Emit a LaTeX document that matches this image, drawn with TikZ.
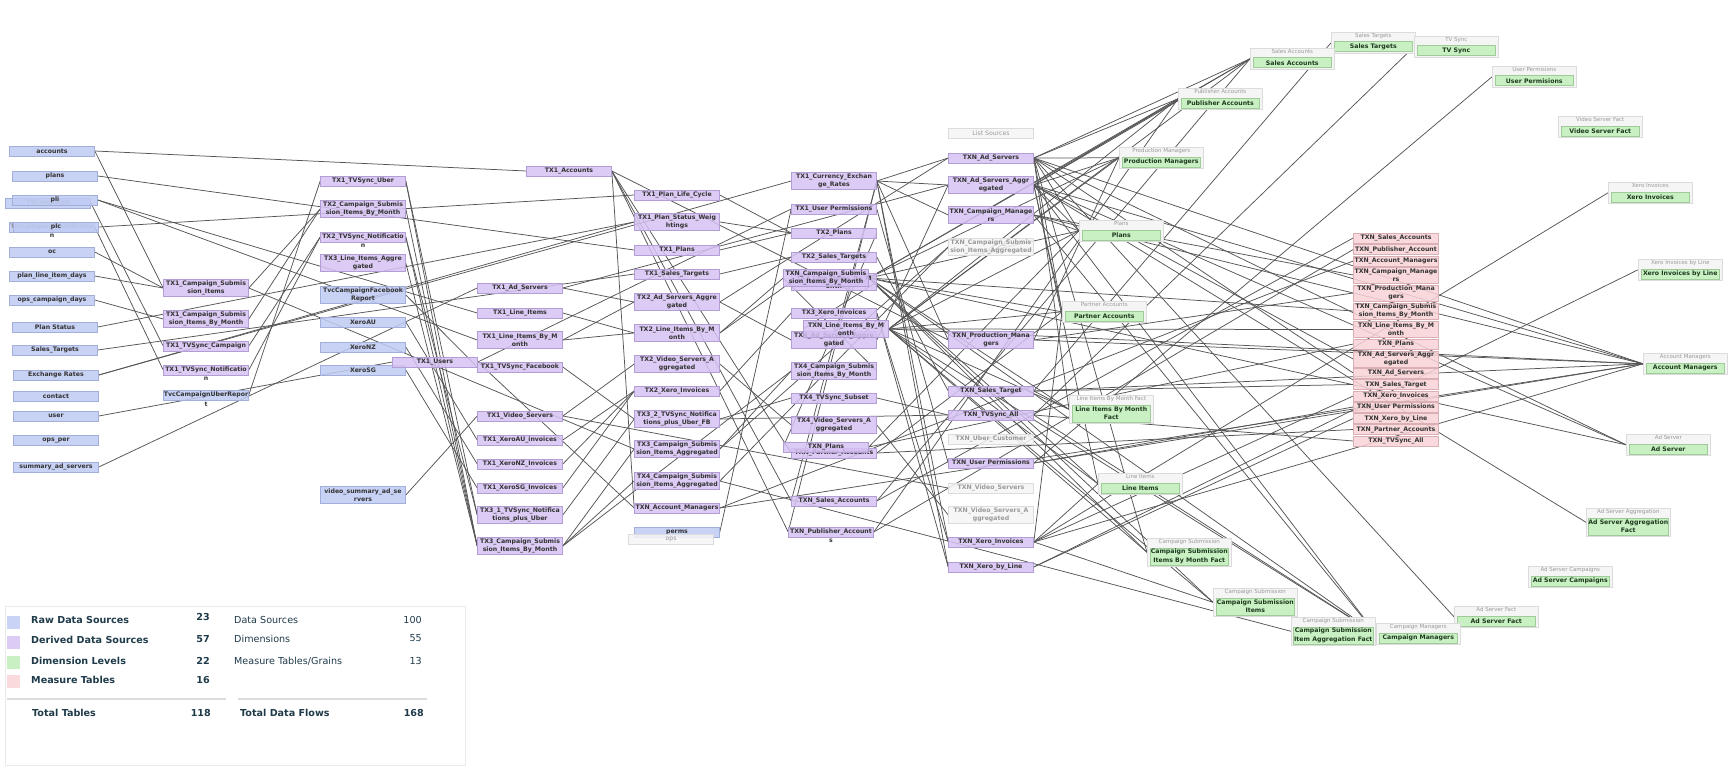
\documentclass[tikz,border=0pt]{standalone}
\usepackage{fontspec}
\setmainfont{DejaVu Sans}
\newfontfamily\dv{DejaVu Sans}
\usetikzlibrary{backgrounds}
\definecolor{rawf}{HTML}{BFCBF3}\definecolor{rawd}{HTML}{A3AFDB}
\definecolor{derf}{HTML}{D6C2F3}\definecolor{derd}{HTML}{B29DD5}
\definecolor{meaf}{HTML}{F9D3D7}\definecolor{mead}{HTML}{DAB0B5}
\definecolor{dimf}{HTML}{C8F0C3}\definecolor{dimd}{HTML}{9FCB99}
\definecolor{lrawf}{HTML}{C9D3F5}\definecolor{lderf}{HTML}{DCCBF5}\definecolor{lmeaf}{HTML}{FADADD}
\definecolor{gryf}{HTML}{F5F5F5}\definecolor{gryd}{HTML}{DCDCDC}\definecolor{gryt}{HTML}{9A9A9A}
\definecolor{txt}{HTML}{333333}\definecolor{edgec}{HTML}{555555}
\definecolor{lgt}{HTML}{1F3B4A}\definecolor{dimt}{HTML}{1E3A1E}
\newcommand\lab{\dv\bfseries\fontsize{6.2}{8.3}\selectfont}
\newcommand\hdr{\dv\fontsize{5.5}{6.5}\selectfont}
\newcommand\lgb{\dv\bfseries\fontsize{9.6}{11}\selectfont}
\newcommand\lgr{\dv\fontsize{9.6}{11}\selectfont}
\tikzset{
 base/.style={rectangle, draw, line width=0.6pt, fill opacity=0.85, text opacity=1, minimum width=85pt, minimum height=10pt, inner sep=0.4pt, align=center, font=\lab, text=txt},
 raw/.style={base, fill=rawf, draw=rawd},
 der/.style={base, fill=derf, draw=derd},
 gry/.style={base, fill=gryf, draw=gryd, text=gryt},
 mea/.style={base, fill=meaf, draw=mead},
 dbl/.style={minimum height=17pt},
 ovl/.style={label={[font=\lab, text=txt, inner sep=0pt, yshift=-1.4pt]below:#1}},
 dout/.style={rectangle, draw=gryd, fill=gryf, line width=0.6pt, minimum width=84pt, inner sep=0pt},
 dhead/.style={font=\hdr, text=gryt, inner sep=0pt},
 din/.style={rectangle, draw=dimd, fill=dimf, line width=0.6pt, minimum width=78pt, inner sep=0.4pt, align=center, font=\lab, text=dimt},
 edge/.style={draw=edgec, line width=0.75pt},
 lgtxt/.style={font=\lgb, text=lgt, inner sep=0pt},
 lgreg/.style={font=\lgr, text=lgt, inner sep=0pt},
}
\newcommand\dimn[6]{%
 \ifnum#6=1 \def\dhh{21}\def\ihh{10}\else\def\dhh{28}\def\ihh{17}\fi
 \node[dout, minimum height=\dhh pt, anchor=north west] (#1) at (#2,#3) {};
 \node[dhead, anchor=north] (#1-h) at ([yshift=-1.6pt]#1.north) {#4};
 \node[din, minimum height=\ihh pt, anchor=south] (#1-i) at ([yshift=1.5pt]#1.south) {#5};}
\begin{document}
\begin{tikzpicture}[x=1pt,y=-1pt]
\useasboundingbox (0,0) rectangle (1730,768);
\begin{scope}[on background layer]
\fill[white] (0,0) rectangle (1730,768);
\end{scope}
% ---------------- raw sources
\node[raw] (accounts) at (52,151) {accounts};
\node[raw] (plans) at (55,176) {plans};
\node[raw, text=gryt] (tvc) at (48,203) {TVCampaign};
\node[raw] (pli) at (55,200) {pli};
\node[raw, text=gryt, ovl=n] (tvcn) at (52,227) {TvcCampaignNotificatio};
\node[raw] (plc) at (56,227) {plc};
\node[raw] (oc) at (52,252) {oc};
\node[raw] (plid) at (52,276) {plan\_line\_item\_days};
\node[raw] (ocd) at (52,300) {ops\_campaign\_days};
\node[raw] (pstat) at (55,327) {Plan Status};
\node[raw] (salest) at (55,350) {Sales\_Targets};
\node[raw] (exr) at (56,375) {Exchange Rates};
\node[raw] (contact) at (56,396) {contact};
\node[raw] (user) at (56,416) {user};
\node[raw] (opsper) at (56,440) {ops\_per};
\node[raw] (summad) at (56,467) {summary\_ad\_servers};
\node[raw, ovl=t] (uberrep) at (206,395) {TvcCampaignUberRepor};
\node[raw, dbl] (fbrep) at (363,295) {TvcCampaignFacebook\\Report};
\node[raw] (xau) at (363,322) {XeroAU};
\node[raw] (xnz) at (363,347) {XeroNZ};
\node[raw] (xsg) at (363,370) {XeroSG};
\node[raw, dbl] (vsas) at (363,495) {video\_summary\_ad\_se\\rvers};
\node[raw] (perms) at (677,532) {perms};
\node[gry, font=\dv\fontsize{6.2}{8}\selectfont] (ops) at (671,539) {ops};
% ---------------- derived
\node[der, dbl] (csi1) at (206,288) {TX1\_Campaign\_Submis\\sion\_Items};
\node[der, dbl] (csibm1) at (206,319) {TX1\_Campaign\_Submis\\sion\_Items\_By\_Month};
\node[der] (tvsc1) at (206,346) {TX1\_TVSync\_Campaign};
\node[der, ovl=n] (tvsn1) at (206,370) {TX1\_TVSync\_Notificatio};
\node[der] (tvsu1) at (363,181) {TX1\_TVSync\_Uber};
\node[der, dbl] (csibm2) at (363,209) {TX2\_Campaign\_Submis\\sion\_Items\_By\_Month};
\node[der, ovl=n] (tvsn2) at (363,237) {TX2\_TVSync\_Notificatio};
\node[der, dbl] (lia3) at (363,263) {TX3\_Line\_Items\_Aggre\\gated};
\node[der] (users1) at (435,362) {TX1\_Users};
\node[der] (ads1) at (520,288) {TX1\_Ad\_Servers};
\node[der] (li1) at (520,313) {TX1\_Line\_Items};
\node[der, dbl] (libm1) at (520,340) {TX1\_Line\_Items\_By\_M\\onth};
\node[der] (tvsf1) at (520,367) {TX1\_TVSync\_Facebook};
\node[der] (vs1) at (520,416) {TX1\_Video\_Servers};
\node[der] (xau1) at (520,440) {TX1\_XeroAU\_invoices};
\node[der] (xnz1) at (520,464) {TX1\_XeroNZ\_Invoices};
\node[der] (xsg1) at (520,488) {TX1\_XeroSG\_Invoices};
\node[der, dbl] (tx31) at (520,515) {TX3\_1\_TVSync\_Notifica\\tions\_plus\_Uber};
\node[der, dbl] (csibm3) at (520,546) {TX3\_Campaign\_Submis\\sion\_Items\_By\_Month};
\node[der] (acc1) at (569,171) {TX1\_Accounts};
\node[der] (plc1) at (677,195) {TX1\_Plan\_Life\_Cycle};
\node[der, dbl] (psw1) at (677,222) {TX1\_Plan\_Status\_Weig\\htings};
\node[der] (plans1) at (677,250) {TX1\_Plans};
\node[der] (st1) at (677,274) {TX1\_Sales\_Targets};
\node[der, dbl] (asa2) at (677,302) {TX2\_Ad\_Servers\_Aggre\\gated};
\node[der, dbl] (libm2) at (677,333) {TX2\_Line\_Items\_By\_M\\onth};
\node[der, dbl] (vsa2) at (677,364) {TX2\_Video\_Servers\_A\\ggregated};
\node[der] (xi2) at (677,391) {TX2\_Xero\_Invoices};
\node[der, dbl] (tx32) at (677,419) {TX3\_2\_TVSync\_Notifica\\tions\_plus\_Uber\_FB};
\node[der, dbl] (csia3) at (677,449) {TX3\_Campaign\_Submis\\sion\_Items\_Aggregated};
\node[der, dbl] (csia4) at (677,481) {TX4\_Campaign\_Submis\\sion\_Items\_Aggregated};
\node[der] (nam) at (677,508) {TXN\_Account\_Managers};
\node[der, dbl] (cer1) at (834,181) {TX1\_Currency\_Exchan\\ge\_Rates};
\node[der] (up1) at (834,209) {TX1\_User Permissions};
\node[der] (plans2) at (834,233) {TX2\_Plans};
\node[der] (st2) at (834,257) {TX2\_Sales\_Targets};
\node[der, dbl] (libm3) at (834,282) {TX3\_Line\_Items\_By\_M\\onth};
\node[der, dbl] (ncsibm) at (826,278) {TXN\_Campaign\_Submis\\sion\_Items\_By\_Month};
\node[der] (xi3) at (834,313) {TX3\_Xero\_Invoices};
\node[der, dbl] (asa4) at (834,340) {TX4\_Ad\_Servers\_Aggre\\gated};
\node[der, dbl] (nlibm) at (846,329) {TXN\_Line\_Items\_By\_M\\onth};
\node[der, dbl] (csibm4) at (834,371) {TX4\_Campaign\_Submis\\sion\_Items\_By\_Month};
\node[der] (tvs4) at (834,398) {TX4\_TVSync\_Subset};
\node[der, dbl] (vsa4) at (834,425) {TX4\_Video\_Servers\_A\\ggregated};
\node[der] (npa) at (834,453) {TXN\_Partner\_Accounts};
\node[der] (nplans) at (826,447) {TXN\_Plans};
\node[der] (nsa) at (834,501) {TXN\_Sales\_Accounts};
\node[der, ovl=s] (npuba) at (831,532) {TXN\_Publisher\_Account};
\node[gry, font=\dv\fontsize{6.2}{8}\selectfont] (lsrc) at (991,133) {List Sources};
\node[der] (nas) at (991,158) {TXN\_Ad\_Servers};
\node[der, dbl] (nasa) at (991,185) {TXN\_Ad\_Servers\_Aggr\\egated};
\node[der, dbl] (ncm) at (991,215) {TXN\_Campaign\_Manage\\rs};
\node[gry, dbl] (ncsia) at (991,247) {TXN\_Campaign\_Submis\\sion\_Items\_Aggregated};
\node[der, dbl] (npm) at (991,340) {TXN\_Production\_Mana\\gers};
\node[der] (nst) at (991,391) {TXN\_Sales\_Target};
\node[der] (ntva) at (991,415) {TXN\_TVSync\_All};
\node[gry] (nuc) at (991,439) {TXN\_Uber\_Customer};
\node[der] (nup) at (991,463) {TXN\_User Permissions};
\node[gry] (nvs) at (991,488) {TXN\_Video\_Servers};
\node[gry, dbl] (nvsa) at (991,515) {TXN\_Video\_Servers\_A\\ggregated};
\node[der] (nxi) at (991,542) {TXN\_Xero\_Invoices};
\node[der] (nxbl) at (991,567) {TXN\_Xero\_by\_Line};
% ---------------- measure tables
\node[mea] (mSA) at (1396,238) {TXN\_Sales\_Accounts};
\node[mea] (mPubA) at (1396,249.5) {TXN\_Publisher\_Account};
\node[mea] (mAM) at (1396,261) {TXN\_Account\_Managers};
\node[mea, minimum height=16pt] (mCM) at (1396,275) {TXN\_Campaign\_Manage\\rs};
\node[mea, minimum height=16pt] (mPM) at (1396,293) {TXN\_Production\_Mana\\gers};
\node[mea, minimum height=16pt] (mCSIBM) at (1396,311) {TXN\_Campaign\_Submis\\sion\_Items\_By\_Month};
\node[mea, minimum height=16pt] (mLIBM) at (1396,329.5) {TXN\_Line\_Items\_By\_M\\onth};
\node[mea] (mPlans) at (1396,344) {TXN\_Plans};
\node[mea, minimum height=16pt] (mASA) at (1396,359) {TXN\_Ad\_Servers\_Aggr\\egated};
\node[mea] (mAS) at (1396,373) {TXN\_Ad\_Servers};
\node[mea] (mST) at (1396,384.5) {TXN\_Sales\_Target};
\node[mea] (mXI) at (1396,396) {TXN\_Xero\_Invoices};
\node[mea] (mUP) at (1396,407) {TXN\_User Permissions};
\node[mea] (mXBL) at (1396,418.5) {TXN\_Xero\_by\_Line};
\node[mea] (mPA) at (1396,429.5) {TXN\_Partner\_Accounts};
\node[mea] (mTVA) at (1396,441) {TXN\_TVSync\_All};
% ---------------- dimension levels
\dimn{dST}{1331}{32}{Sales Targets}{Sales Targets}{1}
\dimn{dTV}{1414}{36}{TV Sync}{TV Sync}{1}
\dimn{dSA}{1250}{48}{Sales Accounts}{Sales Accounts}{1}
\dimn{dPubA}{1178}{88}{Publisher Accounts}{Publisher Accounts}{1}
\dimn{dUP}{1492}{66}{User Permisions}{User Permisions}{1}
\dimn{dPM}{1119}{147}{Production Managers}{Production Managers}{1}
\dimn{dVSF}{1558}{116}{Video Server Fact}{Video Server Fact}{1}
\dimn{dPlans}{1079}{220}{Plans}{Plans}{1}
\dimn{dXI}{1608}{182}{Xero Invoices}{Xero Invoices}{1}
\dimn{dXBL}{1638}{259}{Xero Invoices by Line}{Xero Invoices by Line}{1}
\dimn{dPA}{1062}{301}{Partner Accounts}{Partner Accounts}{1}
\dimn{dAM}{1643}{353}{Account Managers}{Account Managers}{1}
\dimn{dLIBMF}{1069}{395}{Line Items By Month Fact}{Line Items By Month\\Fact}{2}
\dimn{dAS}{1626}{434}{Ad Server}{Ad Server}{1}
\dimn{dLI}{1098}{473}{Line Items}{Line Items}{1}
\dimn{dASAF}{1586}{508}{Ad Server Aggregation}{Ad Server Aggregation\\Fact}{2}
\dimn{dCSIBMF}{1147}{538}{Campaign Submission}{Campaign Submission\\Items By Month Fact}{2}
\dimn{dASC}{1528}{566}{Ad Server Campaigns}{Ad Server Campaigns}{1}
\dimn{dCSI}{1213}{588}{Campaign Submission}{Campaign Submission\\Items}{2}
\dimn{dASF}{1454}{606}{Ad Server Fact}{Ad Server Fact}{1}
\dimn{dCM}{1376}{623}{Campaign Managers}{Campaign Managers}{1}
\dimn{dCSAF}{1291}{617}{Campaign Submission}{Campaign Submission\\Item Aggregation Fact}{2}
% ---------------- data flows
\begin{scope}[on background layer]
\foreach \a/\b in {accounts/acc1, accounts/csi1, plans/plans1, pli/li1, tvc/tvsc1, plc/plc1, tvcn/tvsn1, oc/csi1, plid/csi1, ocd/csibm1, pstat/psw1, salest/st1, exr/cer1, user/users1, summad/ads1, uberrep/tvsu1, fbrep/tvsf1, xau/xau1, xnz/xnz1, xsg/xsg1, vsas/vs1, perms/up1, exr/psw1, pli/libm1,
 csi1/csibm2, csibm1/csibm2, tvsc1/tvsn2, tvsn1/tvsn2, tvsu1/tx31, csibm2/csibm3, tvsn2/tx31, lia3/csibm3, tvsn2/csibm3, tvsu1/csibm3, csi1/csia3, users1/up1, users1/nam,
 ads1/asa2, ads1/nasa, li1/libm2, libm1/libm2, libm1/asa2, tvsf1/tx32, vs1/vsa2, vs1/nvs, xau1/xi2, xnz1/xi2, xsg1/xi2, tx31/tx32, csibm3/csia3, csibm3/csia4, csibm3/csibm4,
 acc1/nsa, acc1/npuba, acc1/npa, acc1/nam, acc1/npm,
 plc1/plans2, psw1/plans2, plans1/plans2, st1/st2, asa2/asa4, asa2/nas, libm2/libm3, libm2/ncsibm, vsa2/vsa4, xi2/xi3, tx32/ntva, tx32/tvs4, csia3/ncsia, csia3/csibm4, csia4/ncsia,
 cer1/nas, cer1/nasa, cer1/ncm, cer1/npm, cer1/nxi, cer1/nxbl, cer1/nsa, cer1/npuba, up1/nup, plans2/nplans, st2/nst, libm3/nlibm, xi3/nxi, xi3/nxbl, asa4/nasa, csibm4/ncsibm, tvs4/ntva, vsa4/nvsa,
 nsa/mSA, npuba/mPubA, nam/mAM, ncm/mCM, npm/mPM, ncsibm/mCSIBM, nlibm/mLIBM, nplans/mPlans, nasa/mASA, nas/mAS, nst/mST, nxi/mXI, nup/mUP, nxbl/mXBL, npa/mPA, ntva/mTVA,
 nas/dSA, nasa/dSA, ncsibm/dSA, nlibm/dSA, nsa/dSA,
 nas/dPubA, nasa/dPubA, ncsibm/dPubA, nlibm/dPubA, npuba/dPubA,
 nas/dPM, nasa/dPM, ncsibm/dPM, nlibm/dPM, npm/dPM,
 nas/dPlans, nasa/dPlans, ncsibm/dPlans, nlibm/dPlans, nplans/dPlans, ncm/dPlans,
 nas/dPA, nasa/dPA, ncsibm/dPA, nlibm/dPA, npa/dPA, nxi/dPA,
 nlibm/dLIBMF, nas/dLIBMF, ncsibm/dLIBMF, nst/dLIBMF,
 nlibm/dLI, ncsibm/dLI, nasa/dLI, nxi/dLI,
 ncsibm/dCSIBMF, nlibm/dCSIBMF, nas/dCSIBMF,
 ncsibm/dCSI, nxi/dCSI, nlibm/dCSI,
 ncsibm/dCM, nlibm/dCM, nasa/dCM, ncm/dCM, ntva/dCM,
 csia4/dCSAF,
 nas/dAM, nasa/dAM, ncm/dAM, npm/dAM, nst/dAM, nup/dAM, nxi/dAM, nam/dAM, nlibm/dAM,
 nas/dAS, nasa/dAS, ncsibm/dAS,
 nxi/dXI, nxbl/dXBL, nup/dUP, ntva/dTV, nst/dST, nas/dASF, nasa/dASAF}
 \draw[edge] (\a.east) -- (\b.west);
\end{scope}
% ---------------- legend
\draw[gryd!60, line width=0.6pt] (5,606) rectangle (465,765);
\fill[lrawf] (7,616) rectangle (20,629);
\fill[lderf] (7,636) rectangle (20,649);
\fill[dimf] (7,656) rectangle (20,669);
\fill[lmeaf] (7,675) rectangle (20,688);
\node[lgtxt, anchor=west] (l1) at (31,619.5) {Raw Data Sources};
\node[lgtxt, anchor=west] (l2) at (31,639.5) {Derived Data Sources};
\node[lgtxt, anchor=west] (l3) at (31,661) {Dimension Levels};
\node[lgtxt, anchor=west] (l4) at (31,680) {Measure Tables};
\node[lgtxt, anchor=east] (n1) at (210,616.5) {23};
\node[lgtxt, anchor=east] (n2) at (210,639.5) {57};
\node[lgtxt, anchor=east] (n3) at (210,661) {22};
\node[lgtxt, anchor=east] (n4) at (210,680) {16};
\node[lgreg, anchor=west] (r1) at (234,619.5) {Data Sources};
\node[lgreg, anchor=west] (r2) at (234,638.5) {Dimensions};
\node[lgreg, anchor=west] (r3) at (234,661) {Measure Tables/Grains};
\node[lgreg, anchor=east] (rn1) at (422,619.5) {100};
\node[lgreg, anchor=east] (rn2) at (422,638.5) {55};
\node[lgreg, anchor=east] (rn3) at (422,661) {13};
\draw[gryd, line width=1.2pt] (7,699) -- (226,699);
\draw[gryd, line width=1.2pt] (238,699) -- (427,699);
\node[lgtxt, anchor=west] (tt) at (32,712.5) {Total Tables};
\node[lgtxt, anchor=east] (ttn) at (211,712.5) {118};
\node[lgtxt, anchor=west] (tf) at (240,712.5) {Total Data Flows};
\node[lgtxt, anchor=east] (tfn) at (424,712.5) {168};
\end{tikzpicture}
\end{document}
